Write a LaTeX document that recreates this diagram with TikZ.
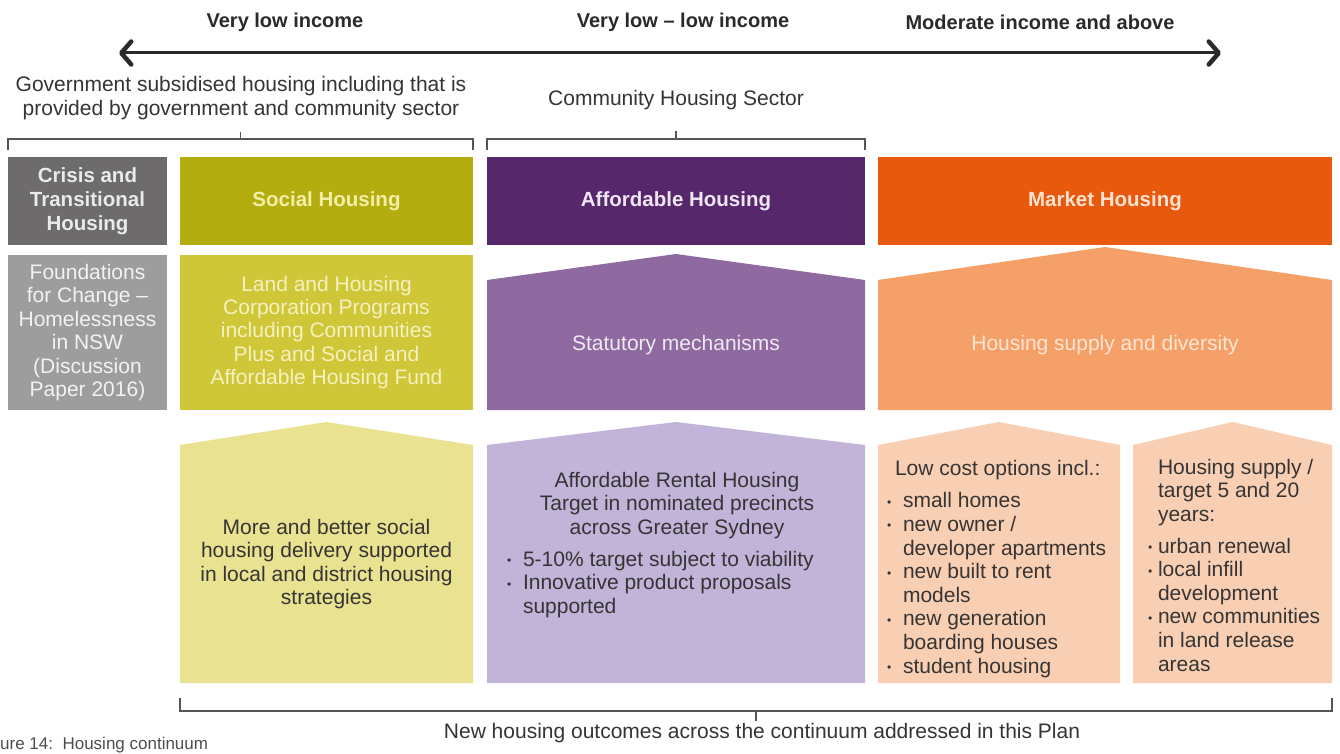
\documentclass[tikz,border=0pt]{standalone}
\usepackage{fontspec}
\setmainfont{Liberation Sans}
\usetikzlibrary{positioning, arrows.meta, backgrounds}

\definecolor{crisisgrey}{HTML}{6D6B6B}
\definecolor{foundgrey}{HTML}{9E9D9D}
\definecolor{socialolive}{HTML}{B4AD10}
\definecolor{landolive}{HTML}{CFC638}
\definecolor{socialpale}{HTML}{E9E290}
\definecolor{affpurple}{HTML}{56286B}
\definecolor{statpurple}{HTML}{8E6AA0}
\definecolor{rentallilac}{HTML}{C1B4D8}
\definecolor{marketorange}{HTML}{E8590E}
\definecolor{supplyorange}{HTML}{F4A068}
\definecolor{marketpeach}{HTML}{F9CFB3}
\definecolor{crisistext}{HTML}{EAEAEA}
\definecolor{foundtext}{HTML}{F2F2F2}
\definecolor{socialtext}{HTML}{F2EEA6}
\definecolor{landtext}{HTML}{F5F1C2}
\definecolor{afftext}{HTML}{EEE7F3}
\definecolor{stattext}{HTML}{EFE9F3}
\definecolor{markettext}{HTML}{FDE2D0}
\definecolor{supplytext}{HTML}{FDE5D4}
\definecolor{inkgrey}{HTML}{2A2A2A}
\definecolor{bodygrey}{HTML}{363434}
\definecolor{bracketgrey}{HTML}{555555}
\definecolor{captiongrey}{HTML}{4D4D4D}

\newcommand{\itm}[1][16pt]{\makebox[#1][l]{\raisebox{1.5pt}{\fontsize{12}{12}\selectfont\textbullet}}}

\begin{document}
\begin{tikzpicture}[x=1pt, y=-1pt, node distance=10pt,
    block/.style={rectangle, inner sep=0pt, outer sep=0pt, align=center},
    head/.style={block, minimum height=88pt, font=\bfseries\fontsize{20.5}{24}\selectfont},
    prog/.style={block, minimum height=155pt, font=\fontsize{21}{23.4}\selectfont},
    roofed/.style={block, minimum height=130pt, font=\fontsize{21}{23.4}\selectfont},
    house/.style={block, minimum height=238pt},
    txt/.style={inner sep=0pt, outer sep=0pt, font=\fontsize{21}{23.6}\selectfont, text=bodygrey},
    band/.style={inner sep=0pt, outer sep=0pt, font=\bfseries\fontsize{20}{24}\selectfont, text=inkgrey},
    arrow/.style={<->, >={Straight Barb[length=10pt, width=23pt, line width=1.5pt 1, round]}, line width=3pt, draw=inkgrey},
    bracket/.style={draw=bracketgrey, line width=1.5pt}]

\useasboundingbox (0,0) rectangle (1340,754);
\clip (0,0) rectangle (1340,754);

% Income scale
\node[band] (verylow) at (285,22) {Very low income};
\node[band] (lowband) at (683,22) {Very low – low income};
\node[band] (moderate) at (1040,22) {Moderate income and above};
\coordinate (lowend) at (119,53);
\coordinate (highend) at (1221,53);
\draw[arrow] (lowend) -- (highend);

% Providers
\node[txt, align=center] (govtext) at (241,98) {Government subsidised housing including that is\\provided by government and community sector};
\node[txt] (community) at (676,100) {Community Housing Sector};

% Header row
\node[head, minimum width=159pt, fill=crisisgrey, text=crisistext] (crisis) at (87.5,201) {Crisis and\\Transitional\\Housing};
\node[head, minimum width=293pt, fill=socialolive, text=socialtext, right=13pt of crisis] (social) {Social Housing};
\node[head, minimum width=378pt, fill=affpurple, text=afftext, right=14pt of social] (affordable) {Affordable Housing};
\node[head, minimum width=454pt, fill=marketorange, text=markettext, right=13pt of affordable] (market) {Market Housing};

% Brackets
\coordinate (govtick) at (240.5,139);
\coordinate (commtick) at ([yshift=18pt]affordable.north);
\draw[bracket] ([yshift=7pt]crisis.north west) |- ([yshift=18pt]social.north east) -- ([yshift=7pt]social.north east);
\draw[bracket] (govtick) -- ++(0,-7);
\draw[bracket] ([yshift=7pt]affordable.north west) |- ([yshift=18pt]affordable.north east) -- ([yshift=7pt]affordable.north east);
\draw[bracket] (commtick) -- ++(0,-8);

% Programs
\node[prog, minimum width=159pt, fill=foundgrey, text=foundtext, below=of crisis] (foundations) {Foundations\\for Change –\\Homelessness\\in NSW\\(Discussion\\Paper 2016)};
\node[prog, minimum width=293pt, fill=landolive, text=landtext, below=of social] (landcorp) {Land and Housing\\Corporation Programs\\including Communities\\Plus and Social and\\Affordable Housing Fund};
\node[roofed, minimum width=378pt, text=stattext, below=35pt of affordable] (statutory) {Statutory mechanisms};
\node[roofed, minimum width=454pt, text=supplytext, below=35pt of market] (supply) {Housing supply and diversity};

% Outcomes
\node[house, txt, minimum width=293pt, below=35pt of landcorp] (socialhouse) {More and better social\\housing delivery supported\\in local and district housing\\strategies};
\node[house, minimum width=378pt, below=35pt of statutory] (rental) {};
\node[house, minimum width=242pt, anchor=north west] (lowcost) at ([yshift=-35pt]supply.south west) {};
\node[house, minimum width=199pt, anchor=north east] (target) at ([yshift=-35pt]supply.south east) {};

\node[txt, align=center, anchor=north] (rentaltitle) at (677,472) {Affordable Rental Housing\\Target in nominated precincts\\across Greater Sydney};
\node[txt, align=left, anchor=north west] (rentallist) at (507,551) {\itm 5-10\% target subject to viability\\
  \itm Innovative product proposals\\
  \hspace*{16pt}supported};
\node[txt, align=left, anchor=north west] (lowcosttext) at (887,460) {\hspace*{8pt}Low cost options incl.:\\[9pt]
  \itm small homes\\
  \itm new owner /\\
  \hspace*{16pt}developer apartments\\
  \itm new built to rent\\
  \hspace*{16pt}models\\
  \itm new generation\\
  \hspace*{16pt}boarding houses\\
  \itm student housing};
\node[txt, align=left, anchor=north west] (targettext) at (1148,459) {\hspace*{10pt}Housing supply /\\
  \hspace*{10pt}target 5 and 20\\
  \hspace*{10pt}years:\\[8pt]
  \itm[10pt]urban renewal\\
  \itm[10pt]local infill\\
  \hspace*{10pt}development\\
  \itm[10pt]new communities\\
  \hspace*{10pt}in land release\\
  \hspace*{10pt}areas};

% Continuum bracket
\coordinate (outtick) at (756,711);
\draw[bracket] ([yshift=-15pt]socialhouse.south west) |- ([yshift=-28pt]target.south east) -- ([yshift=-15pt]target.south east);
\draw[bracket] (outtick) -- ++(0,10);
\node[txt] (outcomes) at (762,733) {New housing outcomes across the continuum addressed in this Plan};

% Caption at the page foot
\node[inner sep=0pt, anchor=north west, font=\fontsize{17}{18}\selectfont, text=captiongrey] (caption) at (0,737) {ure 14:\ \ Housing continuum};

% Shapes behind the texts
\begin{scope}[on background layer]
  \fill[white] (0,0) rectangle (1340,754);
  \fill[statpurple] (statutory.south west) -- (statutory.north west) -- ([yshift=26pt]statutory.north) -- (statutory.north east) -- (statutory.south east) -- cycle;
  \fill[supplyorange] (supply.south west) -- (supply.north west) -- ([yshift=33pt]supply.north) -- (supply.north east) -- (supply.south east) -- cycle;
  \fill[socialpale] (socialhouse.south west) -- (socialhouse.north west) -- ([yshift=23pt]socialhouse.north) -- (socialhouse.north east) -- (socialhouse.south east) -- cycle;
  \fill[rentallilac] (rental.south west) -- (rental.north west) -- ([yshift=23pt]rental.north) -- (rental.north east) -- (rental.south east) -- cycle;
  \fill[marketpeach] (lowcost.south west) -- (lowcost.north west) -- ([yshift=23pt]lowcost.north) -- (lowcost.north east) -- (lowcost.south east) -- cycle;
  \fill[marketpeach] (target.south west) -- (target.north west) -- ([yshift=23pt]target.north) -- (target.north east) -- (target.south east) -- cycle;
\end{scope}

\end{tikzpicture}
\end{document}
